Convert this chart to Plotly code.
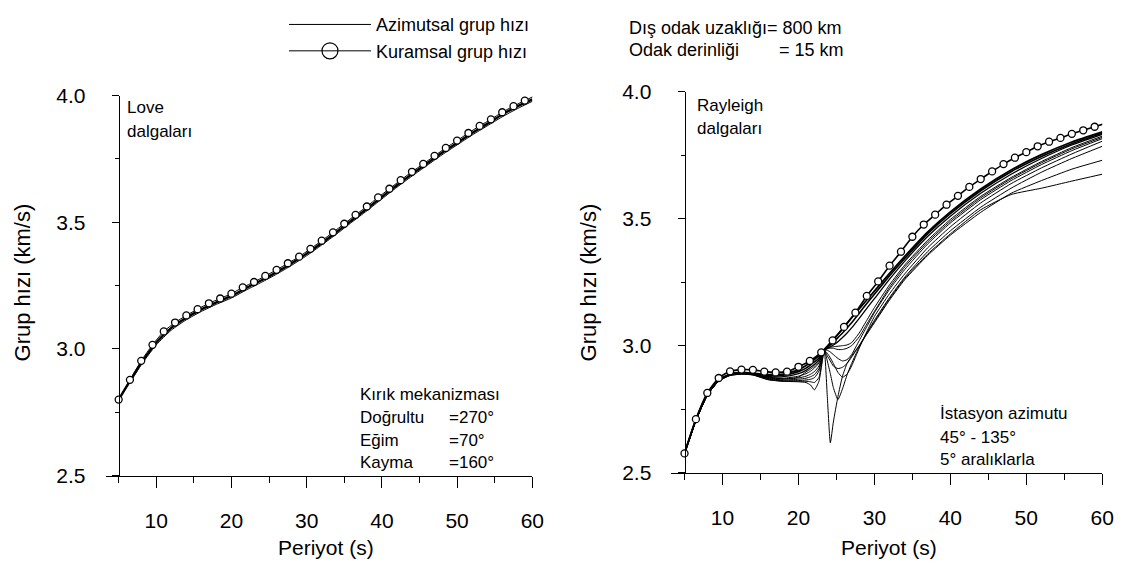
import plotly.graph_objects as go

W, H = 1137, 573
FONT = "Liberation Sans, Arial, sans-serif"

# ---------------- data ----------------
# theoretical group velocity sampled every 1.5 s
theory_period = [5.0, 6.5, 8.0, 9.5, 11.0, 12.5, 14.0, 15.5, 17.0, 18.5, 20.0, 21.5, 23.0,
                 24.5, 26.0, 27.5, 29.0, 30.5, 32.0, 33.5, 35.0, 36.5, 38.0, 39.5, 41.0,
                 42.5, 44.0, 45.5, 47.0, 48.5, 50.0, 51.5, 53.0, 54.5, 56.0, 57.5, 59.0, 60.5]

love_theory = [2.800, 2.878, 2.953, 3.016, 3.069, 3.104, 3.132, 3.157, 3.180, 3.199, 3.218,
               3.243, 3.264, 3.288, 3.312, 3.338, 3.364, 3.395, 3.427, 3.460, 3.494, 3.529,
               3.562, 3.598, 3.632, 3.666, 3.699, 3.730, 3.762, 3.793, 3.822, 3.852, 3.880,
               3.906, 3.934, 3.958, 3.980, 4.001]

rayleigh_theory = [2.576, 2.711, 2.814, 2.873, 2.899, 2.906, 2.905, 2.898, 2.895, 2.898, 2.917,
                   2.940, 2.974, 3.021, 3.074, 3.130, 3.196, 3.253, 3.315, 3.370, 3.429, 3.477,
                   3.516, 3.555, 3.590, 3.625, 3.656, 3.686, 3.715, 3.740, 3.762, 3.785, 3.803,
                   3.818, 3.834, 3.848, 3.862, 3.876]

# azimuthal (station-dependent) group velocity, Love waves
love_az_period = [5, 6, 7, 8, 9, 10, 12, 14, 16, 18, 20, 22, 24, 26, 28, 30, 32, 34, 36, 38,
                  40, 42, 44, 46, 48, 50, 52, 54, 56, 58, 60]
love_az_a = [2.800, 2.849, 2.897, 2.945, 2.986, 3.025, 3.083, 3.123, 3.156, 3.184, 3.209,
             3.241, 3.271, 3.303, 3.338, 3.376, 3.418, 3.462, 3.508, 3.553, 3.600, 3.646,
             3.690, 3.732, 3.774, 3.813, 3.852, 3.888, 3.925, 3.957, 3.985]
love_az_b = [2.800, 2.846, 2.891, 2.937, 2.978, 3.016, 3.074, 3.115, 3.148, 3.176, 3.201,
             3.233, 3.263, 3.295, 3.330, 3.368, 3.410, 3.454, 3.500, 3.545, 3.592, 3.638,
             3.682, 3.724, 3.766, 3.805, 3.844, 3.880, 3.916, 3.948, 3.977]

# azimuthal group velocity, Rayleigh waves (station azimuth 45-135 deg, 5 deg steps)
ray_az_period = [5, 6.5, 8, 9.5, 11, 12.5, 14, 16, 18, 20, 21, 21.6, 22.1, 22.7, 23.4, 23.8,
                 24.2, 24.6, 25.2, 25.8, 26.4, 27, 28, 29, 30, 32, 34, 37, 40, 44, 48, 52, 56, 60]
ray_az_1 = [2.576, 2.708, 2.808, 2.865, 2.888, 2.895, 2.892, 2.886, 2.888, 2.905, 2.922, 2.935,
            2.946, 2.960, 2.982, 2.996, 3.010, 3.024, 3.045, 3.066, 3.088, 3.110, 3.145, 3.180,
            3.215, 3.285, 3.352, 3.447, 3.527, 3.617, 3.692, 3.752, 3.802, 3.842]
ray_az_2 = [2.576, 2.708, 2.808, 2.865, 2.888, 2.894, 2.891, 2.883, 2.884, 2.898, 2.912, 2.925,
            2.936, 2.952, 2.982, 2.992, 3.003, 3.014, 3.032, 3.050, 3.070, 3.090, 3.128, 3.166,
            3.203, 3.275, 3.343, 3.440, 3.520, 3.610, 3.685, 3.745, 3.795, 3.836]
ray_az_3 = [2.576, 2.707, 2.807, 2.864, 2.887, 2.893, 2.890, 2.879, 2.878, 2.890, 2.903, 2.915,
            2.926, 2.944, 2.982, 2.990, 2.996, 3.003, 3.016, 3.032, 3.050, 3.070, 3.108, 3.147,
            3.185, 3.262, 3.333, 3.430, 3.510, 3.600, 3.675, 3.737, 3.790, 3.832]
ray_az_4 = [2.576, 2.706, 2.806, 2.863, 2.886, 2.892, 2.889, 2.876, 2.872, 2.880, 2.890, 2.900,
            2.912, 2.932, 2.982, 2.990, 2.994, 2.996, 2.998, 3.000, 3.003, 3.012, 3.050, 3.100,
            3.150, 3.240, 3.318, 3.415, 3.497, 3.588, 3.662, 3.725, 3.780, 3.825]
ray_az_5 = [2.576, 2.706, 2.806, 2.863, 2.886, 2.892, 2.889, 2.875, 2.870, 2.876, 2.897, 2.908,
            2.919, 2.938, 2.982, 2.988, 2.990, 2.990, 2.985, 2.985, 2.990, 3.000, 3.035, 3.085,
            3.135, 3.230, 3.310, 3.408, 3.490, 3.582, 3.657, 3.720, 3.775, 3.820]
ray_az_6 = [2.576, 2.706, 2.806, 2.862, 2.885, 2.891, 2.888, 2.873, 2.868, 2.873, 2.880, 2.888,
            2.898, 2.920, 2.982, 2.982, 2.975, 2.965, 2.950, 2.940, 2.945, 2.965, 3.020, 3.075,
            3.130, 3.222, 3.300, 3.400, 3.483, 3.575, 3.650, 3.713, 3.768, 3.815]
ray_az_7 = [2.576, 2.705, 2.805, 2.862, 2.884, 2.890, 2.887, 2.871, 2.865, 2.868, 2.872, 2.878,
            2.886, 2.910, 2.982, 2.970, 2.952, 2.930, 2.895, 2.876, 2.888, 2.920, 2.990, 3.055,
            3.115, 3.205, 3.283, 3.385, 3.468, 3.562, 3.638, 3.700, 3.755, 3.805]
ray_az_8 = [2.576, 2.705, 2.805, 2.861, 2.884, 2.889, 2.886, 2.869, 2.862, 2.863, 2.865, 2.868,
            2.874, 2.900, 2.982, 2.940, 2.890, 2.835, 2.788, 2.830, 2.885, 2.930, 2.995, 3.050,
            3.100, 3.190, 3.270, 3.370, 3.452, 3.545, 3.620, 3.683, 3.737, 3.785]
ray_az_9 = [2.576, 2.705, 2.805, 2.861, 2.883, 2.888, 2.885, 2.867, 2.860, 2.858, 2.855, 2.845,
            2.826, 2.860, 2.982, 2.800, 2.618, 2.700, 2.800, 2.880, 2.930, 2.960, 3.000, 3.045,
            3.090, 3.180, 3.260, 3.355, 3.435, 3.525, 3.600, 3.650, 3.695, 3.730]
ray_az_10 = [2.576, 2.705, 2.805, 2.861, 2.883, 2.888, 2.885, 2.866, 2.860, 2.860, 2.860, 2.858,
             2.855, 2.875, 2.982, 2.960, 2.940, 2.920, 2.910, 2.915, 2.930, 2.955, 3.000, 3.050,
             3.095, 3.185, 3.265, 3.360, 3.440, 3.535, 3.595, 3.620, 3.648, 3.675]

ray_az_lines = [ray_az_1, ray_az_2, ray_az_3, ray_az_4, ray_az_5,
                ray_az_6, ray_az_7, ray_az_8, ray_az_9, ray_az_10]
ray_az_widths = [1.8, 1.6, 1.3, 1.0, 1.0, 1.0, 1.0, 1.0, 1.0, 1.0]

x_major = [10, 20, 30, 40, 50, 60]
x_minor = [5, 15, 25, 35, 45, 55]
y_major = [2.5, 3.0, 3.5, 4.0]
y_major_text = ["2.5", "3.0", "3.5", "4.0"]
y_minor = [2.75, 3.25, 3.75]

# ---------------- figure ----------------
fig = go.Figure()

def px_x(p):
    return p / W

def px_y(p):
    return 1 - p / H

# Love panel
for vals, w in [(love_az_a, 2.4), (love_az_b, 1.0)]:
    fig.add_trace(go.Scatter(x=love_az_period, y=vals, mode="lines", xaxis="x", yaxis="y",
                             line=dict(color="black", width=w, shape="spline", smoothing=0.6),
                             showlegend=False, hoverinfo="skip", cliponaxis=False))
fig.add_trace(go.Scatter(x=theory_period, y=love_theory, mode="lines+markers", xaxis="x", yaxis="y",
                         line=dict(color="black", width=1, shape="spline", smoothing=0.6),
                         marker=dict(symbol="circle", size=7, color="white",
                                     line=dict(color="black", width=1.3)),
                         showlegend=False, cliponaxis=False))

# Rayleigh panel
for vals, w in zip(ray_az_lines, ray_az_widths):
    fig.add_trace(go.Scatter(x=ray_az_period, y=vals, mode="lines", xaxis="x2", yaxis="y2",
                             line=dict(color="black", width=w, shape="spline", smoothing=0.5),
                             showlegend=False, hoverinfo="skip", cliponaxis=False))
fig.add_trace(go.Scatter(x=theory_period, y=rayleigh_theory, mode="lines+markers", xaxis="x2", yaxis="y2",
                         line=dict(color="black", width=1.6, shape="spline", smoothing=0.6),
                         marker=dict(symbol="circle", size=7, color="white",
                                     line=dict(color="black", width=1.3)),
                         showlegend=False, cliponaxis=False))

# legend-only entries
fig.add_trace(go.Scatter(x=[None], y=[None], mode="lines", name="Azimutsal grup hızı",
                         line=dict(color="black", width=1)))
fig.add_trace(go.Scatter(x=[None], y=[None], mode="lines+markers", name="Kuramsal grup hızı",
                         line=dict(color="black", width=1),
                         marker=dict(symbol="circle-open", size=16, color="black",
                                     line=dict(color="black", width=1.2))))

common_x = dict(showline=True, linecolor="black", linewidth=1.2,
                ticks="outside", ticklen=11, tickwidth=1.2, tickcolor="black",
                tickvals=x_major, tickfont=dict(size=21, color="black", family=FONT),
                ticklabelstandoff=15,
                minor=dict(tickvals=x_minor, ticks="outside", ticklen=6, tickwidth=1.2,
                           tickcolor="black", showgrid=False),
                showgrid=False, zeroline=False, fixedrange=True)
common_y = dict(range=[2.5, 4.0], showline=True, linecolor="black", linewidth=1.2,
                ticks="outside", ticklen=7, tickwidth=1.2, tickcolor="black",
                tickvals=y_major, ticktext=y_major_text,
                tickfont=dict(size=21, color="black", family=FONT),
                ticklabelstandoff=22,
                minor=dict(tickvals=y_minor, ticks="outside", ticklen=4, tickwidth=1.2,
                           tickcolor="black", showgrid=False),
                showgrid=False, zeroline=False, fixedrange=True, anchor="free")

fig.update_layout(
    width=W, height=H,
    margin=dict(l=0, r=0, t=0, b=0),
    paper_bgcolor="white", plot_bgcolor="rgba(0,0,0,0)",
    font=dict(family=FONT, color="black"),
    xaxis=dict(common_x, domain=[107 / W, 538 / W], anchor="y", range=[3.3, 60]),
    yaxis=dict(common_y, domain=[px_y(483), px_y(87)], position=120 / W),
    xaxis2=dict(common_x, domain=[678 / W, 1114 / W], anchor="y2", range=[3.2, 60]),
    yaxis2=dict(common_y, domain=[px_y(480), px_y(83)], position=692 / W),
    legend=dict(x=287 / W, y=1 + 6 / H, xanchor="left", yanchor="top",
                font=dict(size=18, color="black", family=FONT),
                itemwidth=82, itemsizing="trace", bgcolor="rgba(0,0,0,0)",
                tracegroupgap=0),
    hovermode=False,
)

def ann(text, x, y, size=17, xanchor="left", yanchor="middle", angle=0):
    fig.add_annotation(text=text, x=px_x(x), y=px_y(y), xref="paper", yref="paper",
                       xanchor=xanchor, yanchor=yanchor, showarrow=False, textangle=angle,
                       font=dict(size=size, color="black", family=FONT))

# top-right header text
ann("Dış odak uzaklığı= 800 km", 634, 17, 18)
ann("Odak derinliği", 634, 40, 18)
ann("= 15 km", 785, 40, 18)

# axis titles
ann("Periyot (s)", 329, 558, 21, xanchor="center")
ann("Periyot (s)", 898, 558, 21, xanchor="center")
ann("Grup hızı (km/s)", 23, 282, 22, xanchor="center", angle=-90)
ann("Grup hızı (km/s)", 595, 282, 22, xanchor="center", angle=-90)

# panel labels
ann("Love", 126, 100, 17)
ann("dalgaları", 126, 124, 17)
ann("Rayleigh", 702, 97, 17)
ann("dalgaları", 702, 121, 17)

# fault mechanism block
ann("Kırık mekanizması", 362, 398, 17)
ann("Doğrultu", 362, 422, 17)
ann("=270°", 452, 422, 17)
ann("Eğim", 362, 446, 17)
ann("=70°", 452, 446, 17)
ann("Kayma", 362, 469, 17)
ann("=160°", 452, 469, 17)

# station azimuth block
ann("İstasyon azimutu", 948, 418, 17)
ann("45° - 135°", 948, 443, 17)
ann("5° aralıklarla", 948, 466, 17)

fig.write_html("out.html")
